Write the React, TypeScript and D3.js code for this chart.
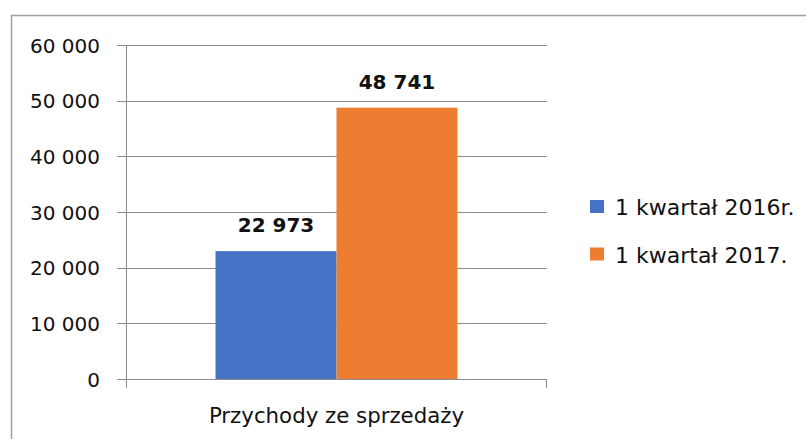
import React from "react";
import * as d3 from "d3";

const categories = ["Przychody ze sprzedaży"];
const seriesNames = ["1 kwartał 2016r.", "1 kwartał 2017."];
const values2016 = [22973];
const values2017 = [48741];
const yTicks = [0, 10000, 20000, 30000, 40000, 50000, 60000];
const colors = ["#4472C4", "#ED7D31"];

const W = 806;
const H = 439;
const FONT = "'DejaVu Sans', sans-serif";

const fmt = (v: number) => d3.format(",")(v).replace(/,/g, " ");

export default function App() {
  const x0 = d3.scaleBand().domain(categories).range([126, 547]).paddingInner(0).paddingOuter(0);
  const x1 = d3.scaleBand().domain(seriesNames).range([0, x0.bandwidth()]).paddingInner(0).paddingOuter(0.74);
  const y = d3.scaleLinear().domain([0, 60000]).range([379, 45]);
  const series = [values2016, values2017];
  const grid = "#8c8c8c";

  return (
    <svg width={W} height={H} style={{ position: "absolute", left: 0, top: 0, display: "block", background: "#fff" }}>
      <path d={`M11.5 ${H} V15.5 H${W}`} fill="none" stroke="#a0a0a0" strokeWidth={1.5} />
      {yTicks.map((t) => (
        <g key={t}>
          {t > 0 && <line x1={117} x2={547} y1={Math.round(y(t)) + 0.5} y2={Math.round(y(t)) + 0.5} stroke={grid} strokeWidth={1} />}
          {t === 0 && <line x1={117} x2={126} y1={Math.round(y(t)) + 0.5} y2={Math.round(y(t)) + 0.5} stroke={grid} strokeWidth={1} />}
          <text x={100} y={y(t) + 7.5} textAnchor="end" fontFamily={FONT} fontSize={20} fill="#111">
            {fmt(t)}
          </text>
        </g>
      ))}
      {categories.map((c, ci) =>
        series.map((s, si) => {
          const bx = (x0(c) as number) + (x1(seriesNames[si]) as number);
          const bw = x1.bandwidth();
          return (
            <g key={c + si}>
              <rect x={bx} y={y(s[ci])} width={bw} height={y(0) - y(s[ci])} fill={colors[si]} />
              <text x={bx + bw / 2} y={y(s[ci]) - 19} textAnchor="middle" fontFamily={FONT} fontSize={20} fontWeight="bold" fill="#111">
                {fmt(s[ci])}
              </text>
            </g>
          );
        })
      )}
      <line x1={126} x2={547} y1={379.5} y2={379.5} stroke={grid} strokeWidth={1} />
      <line x1={126.5} x2={126.5} y1={45} y2={388} stroke={grid} strokeWidth={1} />
      {[126.5, 546.5].map((xx) => (
        <line key={xx} x1={xx} x2={xx} y1={379} y2={388} stroke={grid} strokeWidth={1} />
      ))}
      {categories.map((c) => (
        <text key={c} x={(x0(c) as number) + x0.bandwidth() / 2} y={422.5} textAnchor="middle" fontFamily={FONT} fontSize={21.3} fill="#111">
          {c}
        </text>
      ))}
      {seriesNames.map((n, i) => (
        <g key={n} transform={`translate(590, ${200 + i * 47.5})`}>
          <rect x={0} y={0} width={14} height={13} fill={colors[i]} />
          <text x={25} y={15} fontFamily={FONT} fontSize={22} fill="#111">
            {n}
          </text>
        </g>
      ))}
    </svg>
  );
}
